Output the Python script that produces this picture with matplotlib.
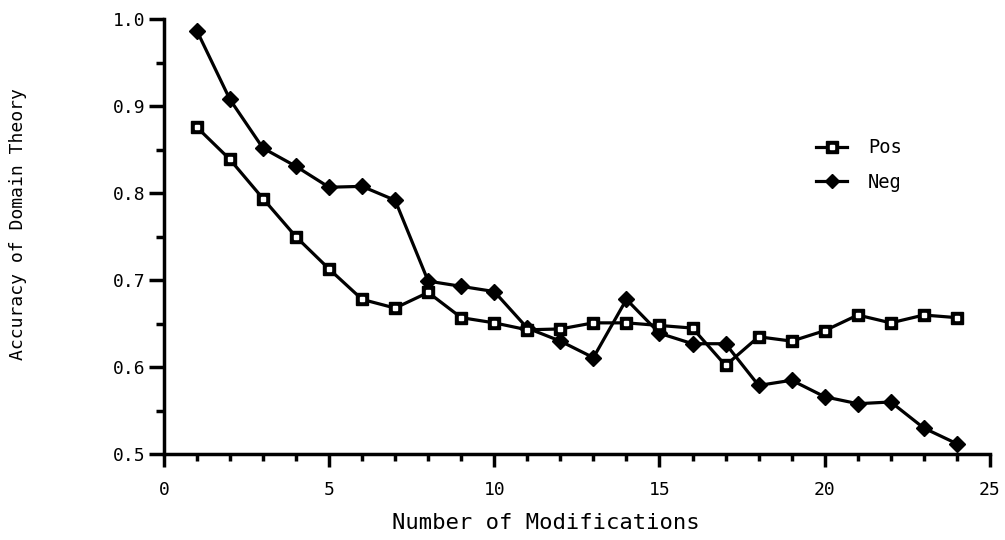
import matplotlib
matplotlib.use("Agg")
import matplotlib.pyplot as plt
from matplotlib.ticker import MultipleLocator
from matplotlib.lines import Line2D

x = list(range(1, 25))
pos = [0.876, 0.839, 0.794, 0.750, 0.713, 0.678, 0.668, 0.686, 0.657, 0.651,
       0.643, 0.644, 0.651, 0.651, 0.648, 0.645, 0.602, 0.635, 0.630, 0.642,
       0.660, 0.651, 0.660, 0.657]
neg = [0.987, 0.908, 0.852, 0.831, 0.807, 0.808, 0.792, 0.699, 0.693, 0.687,
       0.645, 0.630, 0.611, 0.678, 0.639, 0.627, 0.627, 0.579, 0.585, 0.566,
       0.558, 0.560, 0.530, 0.512]
xticks = [0, 5, 10, 15, 20, 25]
yticks = [0.5, 0.6, 0.7, 0.8, 0.9, 1.0]

plt.rcParams['font.family'] = ['DejaVu Sans Mono']
fig = plt.figure(figsize=(10.05, 5.4), dpi=100)
ax = fig.add_axes([0.163, 0.159, 0.822, 0.805])

lw = 2.3
ax.plot(x, neg, color='black', lw=lw, marker='D', ms=8, mfc='black', mec='black', zorder=3)
ax.plot(x, pos, color='black', lw=lw, marker='s', ms=9, mfc='black', mec='black', zorder=4)
ax.plot(x, pos, ls='none', marker='s', ms=3, mfc='white', mec='white', zorder=5)

ax.set_xlim(0, 25)
ax.set_ylim(0.5, 1.0)
ax.set_xticks(xticks)
ax.set_yticks(yticks)
ax.set_yticklabels([f"{v:.1f}" for v in yticks])
ax.xaxis.set_minor_locator(MultipleLocator(1))
ax.yaxis.set_minor_locator(MultipleLocator(0.05))
for s in ['top', 'right']:
    ax.spines[s].set_visible(False)
for s in ['left', 'bottom']:
    ax.spines[s].set_linewidth(2.5)
ax.tick_params(axis='y', which='major', length=11, width=2.5, labelsize=13, pad=2)
ax.tick_params(axis='y', which='minor', length=6, width=2.5)
ax.tick_params(axis='x', which='major', length=9, width=2.5, labelsize=13, pad=10)
ax.tick_params(axis='x', which='minor', length=5, width=2.5)

ax.set_xlabel('Number of Modifications', fontsize=16)
ax.set_ylabel('Accuracy of Domain Theory', fontsize=13)
ax.xaxis.set_label_coords(0.462, -0.135)
ax.yaxis.set_label_coords(-0.166, 0.53)

h_pos_outer = Line2D([], [], color='black', lw=lw, marker='s', ms=8, mfc='black', mec='black')
h_pos_inner = Line2D([], [], ls='none', marker='s', ms=2.5, mfc='white', mec='white')
h_neg = Line2D([], [], color='black', lw=lw, marker='D', ms=7, mfc='black', mec='black')
ax.legend([(h_pos_outer, h_pos_inner), h_neg], ['Pos', 'Neg'], loc='upper left',
          bbox_to_anchor=(0.79, 0.727), frameon=False, fontsize=13.5, handlelength=1.65,
          labelspacing=0.85, handletextpad=1.1, borderpad=0, borderaxespad=0)

fig.savefig('out.png', dpi=100)
